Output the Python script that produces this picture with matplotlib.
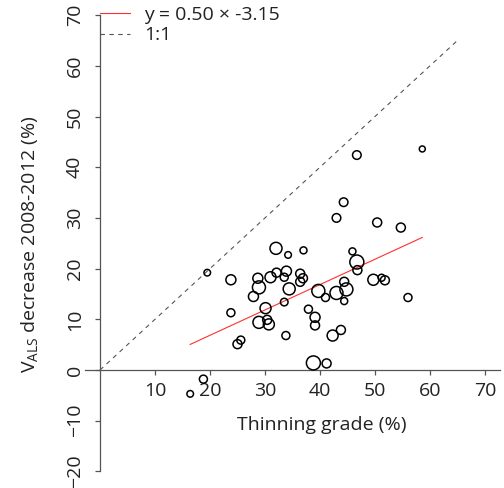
import matplotlib
matplotlib.use("Agg")
import matplotlib.pyplot as plt
import numpy as np

# thinning grade (%) vs V_ALS decrease 2008-2012 (%), circle radius (px) per plot
thinning = [46.7, 58.6, 44.3, 43.0, 50.4, 54.7, 32.0, 34.2, 37.0, 45.9,
            46.7, 46.8, 19.5, 23.8, 28.7, 28.9, 27.9, 31.0, 32.1, 33.9,
            33.5, 34.4, 36.4, 36.9, 36.4, 33.5, 39.7, 41.0, 43.0, 44.8,
            44.4, 44.4, 49.7, 51.2, 51.8, 56.0, 23.8, 30.1, 28.9, 30.4,
            30.7, 37.9, 39.1, 39.1, 42.3, 43.8, 33.8, 25.0, 25.6, 38.8,
            41.2, 18.8, 16.4]
decrease = [42.4, 43.6, 33.1, 30.0, 29.1, 28.1, 24.0, 22.7, 23.6, 23.4,
            21.3, 19.7, 19.2, 17.8, 18.1, 16.3, 14.5, 18.3, 19.2, 19.5,
            18.3, 16.0, 19.0, 18.1, 17.4, 13.4, 15.6, 14.3, 15.2, 15.9,
            17.4, 13.6, 17.8, 18.2, 17.7, 14.3, 11.3, 12.2, 9.4, 9.9,
            9.0, 12.0, 10.4, 8.8, 6.8, 7.9, 6.8, 5.1, 5.9, 1.4,
            1.3, -1.8, -4.7]
radius = [4.3, 3.0, 4.3, 4.3, 4.5, 4.5, 6.0, 3.3, 3.5, 3.5,
          7.0, 4.5, 3.3, 5.0, 5.0, 6.5, 5.0, 5.5, 4.5, 5.0,
          4.0, 6.0, 4.5, 4.5, 4.5, 3.8, 6.5, 4.0, 6.5, 6.5,
          4.5, 3.5, 5.5, 3.5, 4.5, 4.0, 4.0, 5.5, 6.0, 4.5,
          5.5, 4.0, 5.0, 4.5, 5.5, 4.5, 4.0, 4.5, 4.0, 7.0,
          4.5, 4.0, 3.3]

slope = 0.50
intercept = -3.15
one_to_one_end = 65

x_ticks = [10, 20, 30, 40, 50, 60, 70]
y_ticks = [-20, -10, 0, 10, 20, 30, 40, 50, 60, 70]

plt.rcParams['font.family'] = ['Open Sans', 'DejaVu Sans']
plt.rcParams['mathtext.fontset'] = 'custom'
plt.rcParams['mathtext.rm'] = 'Open Sans'

fig = plt.figure(figsize=(5.04, 4.88), dpi=100)
ax = fig.add_axes([84.6 / 504, 0, 415.4 / 504, 1])
ax.set_xlim(-2.8, 72.73)
ax.set_ylim(-23.27, 72.98)

axis_col = "#555555"
text_col = "#222222"
fs = 14

for s in ["top", "right"]:
    ax.spines[s].set_visible(False)
ax.spines["left"].set_position(("data", 0))
ax.spines["left"].set_bounds(-20, 70)
ax.spines["bottom"].set_position(("data", 0))
for s in ["left", "bottom"]:
    ax.spines[s].set_color(axis_col)
    ax.spines[s].set_linewidth(0.9)

ax.set_xticks(x_ticks)
ax.set_yticks(y_ticks)
ax.tick_params(axis="both", direction="out", length=3.6, width=0.9,
               color=axis_col, labelcolor=text_col, labelsize=fs)
ax.tick_params(axis="x", pad=5)
ax.tick_params(axis="y", pad=8)
for lab in ax.get_yticklabels():
    lab.set_rotation(90)
    lab.set_va("center")

# 1:1 line and fitted line
ax.plot([0, one_to_one_end], [0, one_to_one_end], ls=(0, (4, 4)),
        color="#555555", lw=0.8, label="1:1")
xs = np.array([min(thinning), max(thinning)])
ax.plot(xs, slope * xs + intercept, color="#ff3030", lw=0.8,
        label="y = %.2f \u00d7 %.2f" % (slope, intercept))

sizes = [(2 * r * 0.72) ** 2 for r in radius]
ax.scatter(thinning, decrease, s=sizes, facecolors="none",
           edgecolors="black", linewidths=1.1, zorder=3)

handles, labels = ax.get_legend_handles_labels()
ax.legend(handles[::-1], labels[::-1], loc="upper left",
          bbox_to_anchor=(100 / 504, 1 - 6 / 488), bbox_transform=fig.transFigure,
          frameon=False, fontsize=fs, handlelength=1.55, handletextpad=0.7,
          borderpad=0, borderaxespad=0, labelspacing=0.12, labelcolor=text_col)

fig.text(322 / 504, 1 - 425 / 488, "Thinning grade (%)", ha="center",
         va="center", fontsize=fs, color=text_col)
fig.text(30 / 504, 1 - 244 / 488, r"V$_{\mathrm{ALS}}$ decrease 2008-2012 (%)",
         ha="center", va="center", rotation=90, fontsize=fs, color=text_col)

fig.savefig("out.png", dpi=100)
